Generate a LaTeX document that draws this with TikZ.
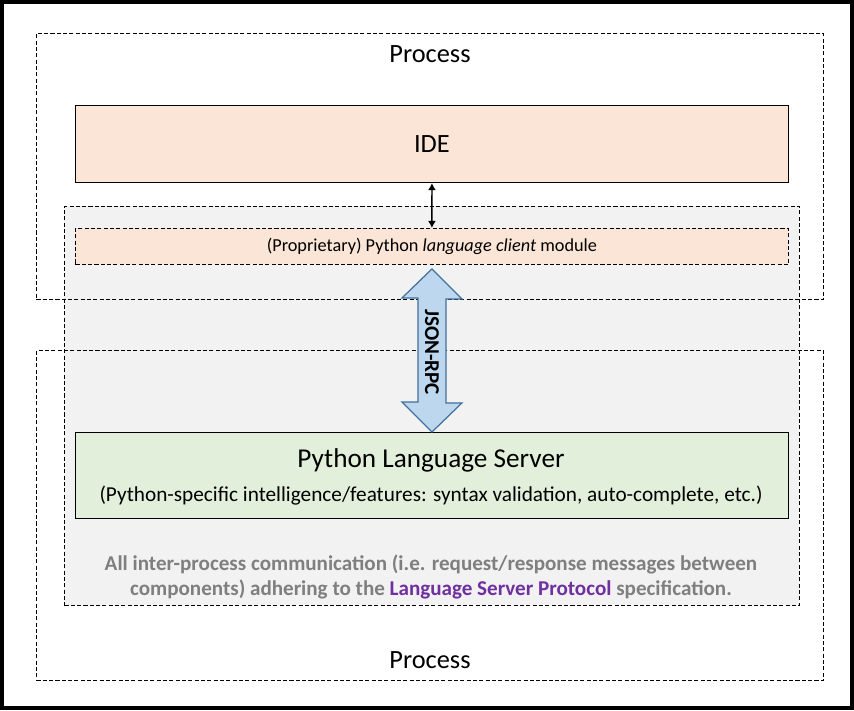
\documentclass[tikz,border=0pt]{standalone}
\usepackage{fontspec}
\setmainfont{Carlito}
\usepackage{xcolor}
\usetikzlibrary{arrows.meta}
\definecolor{peach}{HTML}{FBE5D6}
\definecolor{shade}{HTML}{F2F2F2}
\definecolor{leaf}{HTML}{E2EFDA}
\definecolor{pipe}{HTML}{BDD7EE}
\definecolor{pipeline}{HTML}{41719C}
\definecolor{note}{HTML}{7F7F7F}
\definecolor{lsp}{HTML}{7030A0}

\tikzset{
    dashbox/.style={draw,dash pattern=on 2.3pt off 1.3pt,line width=0.55pt,inner sep=0pt},
    solidbox/.style={draw,line width=0.6pt,inner sep=0pt},
    bigfont/.style={font=\fontsize{15pt}{18pt}\selectfont}
}

\begin{document}
\begin{tikzpicture}[x=0.02cm,y=-0.02cm]
\useasboundingbox (0,0) rectangle (854,710);
\draw [line width=0.08cm] (2,2) rectangle (852,708);
\path
    [anchor=north west]
    (64,206) node [dashbox,fill=shade,minimum width=14.7cm,minimum height=7.98cm] (ipc) {}
    (36,33) node [dashbox,minimum width=15.74cm,minimum height=5.32cm] (proctop) {}
    (36,350) node [dashbox,minimum width=15.74cm,minimum height=6.6cm] (procbot) {}
    (75,105) node [solidbox,fill=peach,minimum width=14.26cm,minimum height=1.54cm,bigfont] (ide) {IDE}
    (75,228) node [dashbox,fill=peach,minimum width=14.26cm,minimum height=0.72cm,
        font=\fontsize{10.4pt}{12pt}\selectfont] (client) {(Proprietary) Python \textit{language client} module}
    (75,432) node [solidbox,fill=leaf,minimum width=14.26cm,minimum height=1.72cm] (server) {};
\path
    (430,54) node [bigfont] (proctoplabel) {Process}
    (430,660) node [bigfont] (procbotlabel) {Process}
    (431,460) node [font=\fontsize{15.5pt}{18pt}\selectfont] (servertitle) {Python Language Server}
    (431,496) node [font=\fontsize{12.1pt}{14pt}\selectfont] (serverdesc)
        {(Python-specific intelligence/features: syntax validation, auto-complete, etc.)}
    (431,577) node [align=center,text=note,font=\bfseries\fontsize{12pt}{13.8pt}\selectfont] (ipcnote)
        {All inter-process communication (i.e. request/response messages between\\
        components) adhering to the \textcolor{lsp}{Language Server Protocol} specification.};
\draw [{Latex[length=4pt,width=4.5pt]}-{Latex[length=4pt,width=4.5pt]},line width=0.8pt] (ide.south) -- (client.north);
\draw [fill=pipe,draw=pipeline,line width=0.7pt]
    (client.south) ++(0,4) -- ++(30,30) -- ++(-16,0) -- ++(0,104) -- ++(16,0) --
    (server.north) -- ++(-30,-30) -- ++(16,0) -- ++(0,-104) -- ++(-16,0) -- cycle;
\path (client.south) -- (server.north)
    node [midway,yshift=-2,rotate=-90,font=\bfseries\fontsize{12pt}{14pt}\selectfont] (rpc) {JSON-RPC};
\end{tikzpicture}
\end{document}
